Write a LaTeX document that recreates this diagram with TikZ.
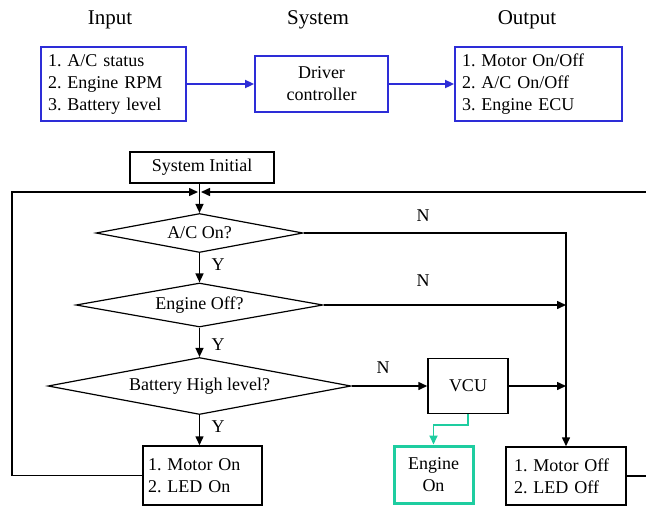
\documentclass[tikz,border=0pt]{standalone}
\usepackage{fontspec}
\setmainfont{Liberation Serif}
\usetikzlibrary{shapes.geometric,arrows.meta}
\definecolor{boxblue}{RGB}{45,45,215}
\definecolor{enggreen}{RGB}{30,205,160}
\tikzset{
    lab/.style={
        font=\fontsize{18}{22}\selectfont
    }
}
\frenchspacing

\begin{document}
\begin{tikzpicture}[x=1pt,y=-1pt, line join=miter]

\tikzset{
  bbox/.style={draw=boxblue, line width=1.8pt, inner ysep=0pt, lab},
  blk/.style={draw=black, line width=1.5pt, inner ysep=0pt, lab},
  gbox/.style={draw=enggreen, line width=3pt, inner sep=0pt, lab},
  dec/.style={diamond, draw=black, line width=1.2pt, inner sep=0pt, lab},
  flow/.style={draw=black, line width=1.5pt, -{Triangle[length=9pt,width=8pt]}},
  bflow/.style={draw=boxblue, line width=1.8pt, -{Triangle[length=9pt,width=8pt]}},
  gflow/.style={draw=enggreen, line width=1.7pt, -{Triangle[length=9pt,width=8pt]}},
  head/.style={font=\fontsize{21}{25}\selectfont},
}

\useasboundingbox (0,0) rectangle (646,507);

% block diagram
\node[head] (hin) at (110,20) {Input};
\node[head] (hsys) at (318,20) {System};
\node[head] (hout) at (527,20) {Output};

\node[bbox, inner xsep=7pt, text width=131pt, align=left, minimum height=74pt] (inp) at (113.5,84)
  {1. A/C status\\2. Engine RPM\\3. Battery level};
\node[bbox, align=center, minimum width=133pt, minimum height=56pt] (drv) at (321.5,84)
  {Driver\\controller};
\node[bbox, inner xsep=7pt, text width=153pt, align=left, minimum height=74pt] (outp) at (538.5,84)
  {1. Motor On/Off\\2. A/C On/Off\\3. Engine ECU};

\draw[bflow] (inp) -- (drv);
\draw[bflow] (drv) -- (outp);

% flow chart
\node[blk, minimum width=144pt, minimum height=31pt] (sinit) at (202,167.5) {System Initial};
\coordinate (jn) at (199.5,192);
\coordinate (lc) at (12,192);
\coordinate (rc) at (660,192);

\node[dec, aspect=5.3, minimum width=207pt, minimum height=39pt] (acon) at (199.5,233) {A/C On?};
\node[dec, aspect=5.6, minimum width=247pt, minimum height=44pt] (eoff) at (199.5,305) {Engine Off?};
\node[dec, aspect=5.3, minimum width=303pt, minimum height=57pt] (bat) at (199.5,386) {Battery High level?};

\node[blk, inner xsep=5pt, text width=109pt, align=left, minimum height=59pt] (mon) at (202.5,475.5)
  {1. Motor On\\2. LED On};
\node[blk, minimum width=80pt, minimum height=55pt] (vcu) at (468,386) {VCU};
\node[gbox, align=center, minimum width=79pt, minimum height=57pt] (eon) at (433.5,474.5)
  {Engine\\On};
\node[blk, inner xsep=8pt, text width=104pt, align=left, minimum height=58pt] (moff) at (566,476)
  {1. Motor Off\\2. LED Off};

% main column
\draw[flow] (acon.north |- sinit.south) -- (acon.north);
\draw[flow] (acon.south) -- (eoff.north);
\draw[flow] (eoff.south) -- (bat.north);
\draw[flow] (bat.south) -- (bat.south |- mon.north);

% N branches
\draw[flow] (acon.east) -| (moff.north);
\draw[flow] (eoff.east) -- (eoff.east -| moff.north);
\draw[flow] (bat.east) -- (vcu.west);
\draw[flow] (vcu.east) -- (vcu.east -| moff.north);
\draw[gflow] (vcu.south) -- ++(0,11) -| (eon.north);

% loops back
\draw[flow, shorten >=1.5pt] (mon.west) -| (lc) -- (jn);
\draw[flow, shorten >=1.5pt] (moff.east) -| (rc) -- (jn);

% labels
\node[lab] (y1) at (218,265) {Y};
\node[lab] (y2) at (218,345) {Y};
\node[lab] (y3) at (218,427) {Y};
\node[lab] (n1) at (423,216) {N};
\node[lab] (n2) at (423,281) {N};
\node[lab] (n3) at (383,368) {N};

\end{tikzpicture}
\end{document}
